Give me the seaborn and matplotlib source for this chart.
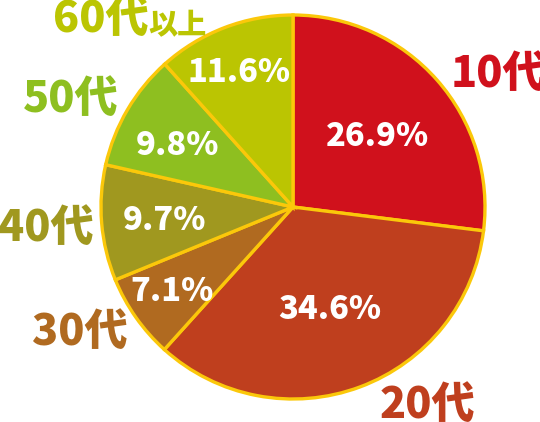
import matplotlib
matplotlib.use("Agg")
import matplotlib.pyplot as plt
import seaborn as sns

# data
groups = ["10代", "20代", "30代", "40代", "50代", "60代"]
shares = [26.9, 34.6, 7.1, 9.7, 9.8, 11.6]
pct_labels = ["26.9%", "34.6%", "7.1%", "9.7%", "9.8%", "11.6%"]
colors = ["#d0111c", "#bf3f1e", "#b06a20", "#a0981f", "#8ebf20", "#bbc502"]

sns.set_theme(style="white")
plt.rcParams['font.family'] = ['Noto Sans CJK JP', 'DejaVu Sans']

fig = plt.figure(figsize=(5.4, 4.22), dpi=100)
ax = fig.add_axes([101 / 540, 23 / 422, 384 / 540, 384 / 422])

wedges, texts, autotexts = ax.pie(
    shares, labels=groups, colors=colors, startangle=90, counterclock=False,
    autopct=lambda p: "", pctdistance=0.55, labeldistance=1.2,
    wedgeprops=dict(edgecolor="#fbc80a", linewidth=2.4),
)
ax.set_xlim(-1, 1)
ax.set_ylim(-1, 1)
ax.set_aspect("equal")

# label placement in pie-radius units
label_pos = [(1.07, 0.69), (0.70, -1.03), (-1.11, -0.65), (-1.29, -0.11), (-1.16, 0.56), (-1.0, 0.98)]
pct_pos = [(0.44, 0.37), (0.19, -0.53), (-0.63, -0.44), (-0.67, -0.07), (-0.60, 0.32), (-0.28, 0.70)]

for t, c, p in zip(texts, colors, label_pos):
    t.set_position(p)
    t.set_color(c)
    t.set_fontsize(31)
    t.set_fontweight("heavy")
    t.set_ha("center")
    t.set_va("center")

for t, s, p in zip(autotexts, pct_labels, pct_pos):
    t.set_text(s)
    t.set_position(p)
    t.set_color("white")
    t.set_fontsize(23.5)
    t.set_fontweight("heavy")
    t.set_ha("center")
    t.set_va("center")

# smaller suffix of the last label
last = texts[-1]
ax.annotate("以上", xy=(1, 0), xycoords=last, xytext=(0, 0), textcoords="offset points",
            ha="left", va="bottom", color=colors[-1], fontsize=21, fontweight="heavy")

fig.savefig("out.png", dpi=100)
